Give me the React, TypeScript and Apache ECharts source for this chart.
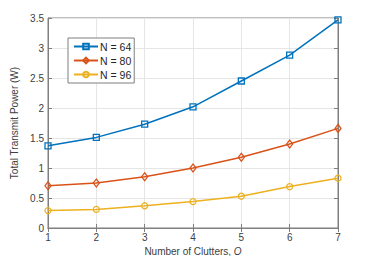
import React, { useEffect, useRef } from "react";
import * as echarts from "echarts";

const clutters = [1, 2, 3, 4, 5, 6, 7];
const n64 = [1.37, 1.51, 1.73, 2.02, 2.45, 2.88, 3.47];
const n80 = [0.705, 0.75, 0.855, 1.0, 1.18, 1.4, 1.66];
const n96 = [0.29, 0.31, 0.37, 0.44, 0.53, 0.69, 0.83];
const seriesNames = ["N = 64", "N = 80", "N = 96"];
const colors = ["#0072BD", "#D95319", "#EDB120"];
const symbols = ["rect", "diamond", "circle"];

export default function App() {
  const ref = useRef<HTMLDivElement>(null);
  useEffect(() => {
    const chart = echarts.init(ref.current!, null, { renderer: "svg" });
    const font = "Liberation Sans, Arial, sans-serif";
    const data = [n64, n80, n96];
    const axisCommon = {
      axisLine: { lineStyle: { color: "#7f7f7f", width: 1 } },
      axisTick: { inside: true, length: 4, lineStyle: { color: "#7f7f7f" } },
      axisLabel: { color: "#404040", fontSize: 10, fontFamily: font },
    };
    chart.setOption({
      animation: false,
      backgroundColor: "#ffffff",
      textStyle: { fontFamily: font },
      grid: {
        left: 48,
        right: 36,
        top: 18,
        bottom: 28,
        show: true,
        borderColor: "#7f7f7f",
        borderWidth: 1,
        outerBoundsMode: "none",
        containLabel: false,
      },
      legend: {
        left: 68,
        top: 38,
        orient: "vertical",
        backgroundColor: "#fff",
        borderColor: "#7f7f7f",
        borderWidth: 1,
        padding: [3, 3, 3, 5],
        itemGap: 3,
        itemWidth: 24,
        itemHeight: 7,
        textStyle: { fontSize: 10.5, color: "#262626", fontFamily: font, padding: [0, 0, 0, -3] },
        data: seriesNames,
      },
      xAxis: [
        {
          type: "value",
          min: 1,
          max: 7,
          interval: 1,
          ...axisCommon,
          axisLabel: { ...axisCommon.axisLabel, margin: 4 },
          splitLine: { show: true, lineStyle: { color: "#e6e6e6" } },
          name: "Number of Clutters, {i|O}",
          nameLocation: "middle",
          nameGap: 16,
          nameTextStyle: {
            fontSize: 10,
            color: "#404040",
            fontFamily: font,
            rich: { i: { fontStyle: "italic", fontSize: 10, color: "#404040", fontFamily: font } },
          },
        },
        {
          type: "value",
          position: "top",
          min: 1,
          max: 7,
          interval: 1,
          ...axisCommon,
          axisLabel: { show: false },
          splitLine: { show: false },
        },
      ],
      yAxis: [
        {
          type: "value",
          min: 0,
          max: 3.5,
          interval: 0.5,
          ...axisCommon,
          axisLabel: { ...axisCommon.axisLabel, margin: 4 },
          splitLine: { show: true, lineStyle: { color: "#e6e6e6" } },
          name: "Total Transmit Power (W)",
          nameLocation: "middle",
          nameGap: 19,
          nameTextStyle: { fontSize: 10, color: "#404040", fontFamily: font },
        },
        {
          type: "value",
          position: "right",
          min: 0,
          max: 3.5,
          interval: 0.5,
          ...axisCommon,
          axisLabel: { show: false },
          splitLine: { show: false },
        },
      ],
      series: data.map((d, i) => ({
        name: seriesNames[i],
        type: "line",
        data: d.map((v, j) => [clutters[j], v]),
        symbol: symbols[i],
        symbolSize: i === 1 ? [6, 8] : 6,
        showAllSymbol: true,
        lineStyle: { color: colors[i], width: 1.5 },
        itemStyle: { color: "rgba(255,255,255,0)", borderColor: colors[i], borderWidth: 1.3 },
      })),
    });
    return () => chart.dispose();
  }, []);
  return (
    <div
      ref={ref}
      style={{ position: "fixed", left: 0, top: 0, width: 374, height: 256 }}
    />
  );
}
